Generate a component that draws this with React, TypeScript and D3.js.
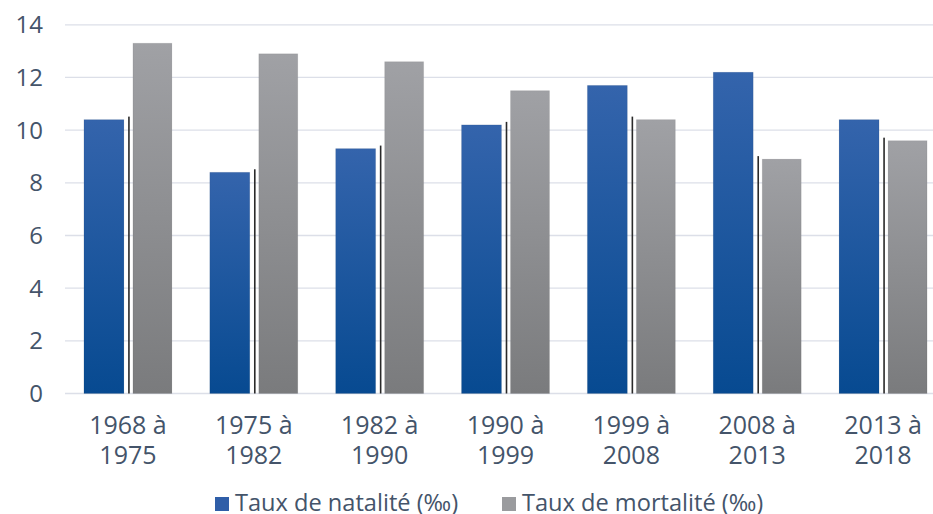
import React, { useEffect, useRef } from "react";
import * as d3 from "d3";

const periods = [
  ["1968 à", "1975"],
  ["1975 à", "1982"],
  ["1982 à", "1990"],
  ["1990 à", "1999"],
  ["1999 à", "2008"],
  ["2008 à", "2013"],
  ["2013 à", "2018"],
];
const natalite = [10.4, 8.4, 9.3, 10.2, 11.7, 12.2, 10.4];
const mortalite = [13.3, 12.9, 12.6, 11.5, 10.4, 8.9, 9.6];
const yTicks = [0, 2, 4, 6, 8, 10, 12, 14];
const seriesNames = ["Taux de natalité (‰)", "Taux de mortalité (‰)"];

const W = 933;
const H = 514;
const font = "'Open Sans', 'Noto Sans', sans-serif";
const textColor = "#44546a";

export default function App() {
  const svgRef = useRef<SVGSVGElement>(null);

  useEffect(() => {
    const svg = d3.select(svgRef.current);
    svg.selectAll("*").remove();

    const x = d3
      .scaleBand()
      .domain(periods.map((p) => p.join(" ")))
      .range([65, 946])
      .paddingInner(0)
      .paddingOuter(0);
    const y = d3.scaleLinear().domain([0, 14]).range([393.5, 24.8]);

    const defs = svg.append("defs");
    const gb = defs.append("linearGradient").attr("id", "gBlue").attr("x1", 0).attr("x2", 0).attr("y1", 0).attr("y2", 1);
    gb.append("stop").attr("offset", "0%").attr("stop-color", "#3464ac");
    gb.append("stop").attr("offset", "100%").attr("stop-color", "#074a91");
    const gg = defs.append("linearGradient").attr("id", "gGray").attr("x1", 0).attr("x2", 0).attr("y1", 0).attr("y2", 1);
    gg.append("stop").attr("offset", "0%").attr("stop-color", "#a0a1a5");
    gg.append("stop").attr("offset", "100%").attr("stop-color", "#7a7b7d");

    // gridlines
    svg
      .append("g")
      .selectAll("line")
      .data(yTicks)
      .join("line")
      .attr("x1", 65)
      .attr("x2", W)
      .attr("y1", (d) => y(d))
      .attr("y2", (d) => y(d))
      .attr("stroke", "#dcdfe8")
      .attr("stroke-width", 1.3);

    // y labels
    svg
      .append("g")
      .selectAll("text")
      .data(yTicks)
      .join("text")
      .attr("x", 43)
      .attr("y", (d) => y(d))
      .attr("dy", "0.36em")
      .attr("text-anchor", "end")
      .attr("font-family", font)
      .attr("font-size", 24)
      .attr("fill", textColor)
      .text((d) => d);

    const g = svg
      .append("g")
      .selectAll("g")
      .data(periods.map((p, i) => ({ key: p.join(" "), p, n: natalite[i], m: mortalite[i] })))
      .join("g")
      .attr("transform", (d) => `translate(${x(d.key)! + x.bandwidth() / 2},0)`);

    // blue bars
    g.append("rect")
      .attr("x", -44)
      .attr("width", 40)
      .attr("y", (d) => y(d.n))
      .attr("height", (d) => y(0) - y(d.n))
      .attr("fill", "url(#gBlue)")
      .attr("stroke", "rgba(0,0,0,0.06)")
      .attr("stroke-width", 1);

    // thin shadow line
    g.append("rect")
      .attr("x", 0.2)
      .attr("width", 1.6)
      .attr("y", (d) => y(Math.min(d.n, d.m)) - 3)
      .attr("height", (d) => y(0) - y(Math.min(d.n, d.m)) + 3)
      .attr("fill", "#2a2a2a");

    // gray bars
    g.append("rect")
      .attr("x", 5)
      .attr("width", 39)
      .attr("y", (d) => y(d.m))
      .attr("height", (d) => y(0) - y(d.m))
      .attr("fill", "url(#gGray)")
      .attr("stroke", "rgba(0,0,0,0.06)")
      .attr("stroke-width", 1);

    // x labels
    const lab = g
      .append("text")
      .attr("text-anchor", "middle")
      .attr("font-family", font)
      .attr("font-size", 25)
      .attr("fill", textColor);
    lab.append("tspan").attr("x", 0).attr("y", 434).text((d) => d.p[0]);
    lab.append("tspan").attr("x", 0).attr("y", 464).text((d) => d.p[1]);

    // legend
    const legendX = [215, 502];
    const legendFill = ["#2f5ea8", "#9a9b9e"];
    const lg = svg
      .append("g")
      .selectAll("g")
      .data(seriesNames)
      .join("g")
      .attr("transform", (d, i) => `translate(${legendX[i]},0)`);
    lg.append("rect")
      .attr("x", 0)
      .attr("y", 497)
      .attr("width", 14)
      .attr("height", 14)
      .attr("fill", (d, i) => legendFill[i]);
    lg.append("text")
      .attr("x", 20)
      .attr("y", 511)
      .attr("font-family", font)
      .attr("font-size", 23.6)
      .attr("fill", textColor)
      .text((d) => d);
  }, []);

  return (
    <svg
      ref={svgRef}
      width={W}
      height={H}
      style={{ position: "absolute", left: 0, top: 0, background: "#fff" }}
    />
  );
}
